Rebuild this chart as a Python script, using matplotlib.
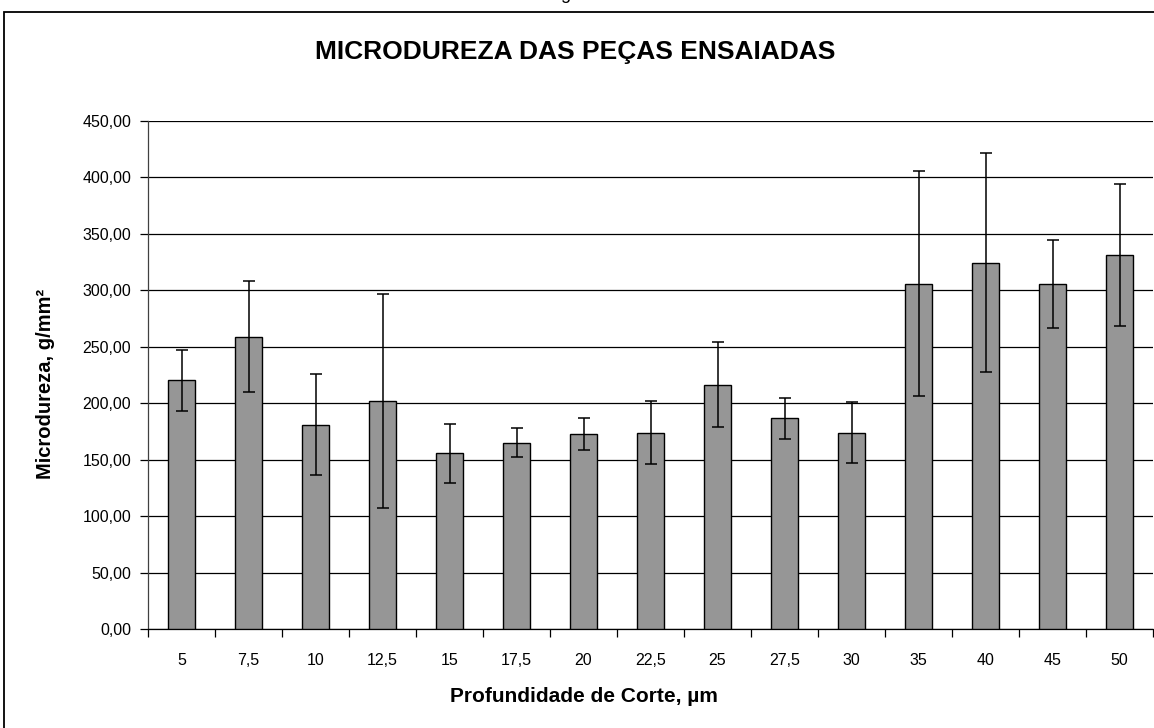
import matplotlib
matplotlib.use("Agg")
import matplotlib.pyplot as plt
from matplotlib.patches import Rectangle
from matplotlib.ticker import FuncFormatter, FixedLocator

categories = ["5", "7,5", "10", "12,5", "15", "17,5", "20", "22,5", "25", "27,5", "30", "35", "40", "45", "50"]
means = [220.5, 259.0, 181.0, 202.0, 155.5, 165.0, 172.5, 174.0, 216.5, 186.5, 174.0, 306.0, 324.5, 306.0, 331.5]
errors = [27.0, 49.0, 45.0, 95.0, 26.0, 13.0, 14.0, 28.0, 38.0, 18.5, 27.0, 100.0, 97.0, 39.0, 63.0]
yticks = [0, 50, 100, 150, 200, 250, 300, 350, 400, 450]

plt.rcParams['font.family'] = ['Liberation Sans', 'DejaVu Sans']

W, H = 1154, 728
fig = plt.figure(figsize=(W / 100, H / 100), dpi=100)
fig.patch.set_facecolor('white')

# outer frame (cut at right/bottom)
fig.patches.append(Rectangle((4 / W, -0.05), 1.2, 1 - 12 / H + 0.05, transform=fig.transFigure,
                             fill=False, edgecolor='black', linewidth=1.3))
# partial caption above frame
fig.text(565 / W, 1 + 1 / H, "g", ha='center', va='baseline', fontsize=13, color='black')

L, R, T, B = 148, 1153, 121, 629
ax = fig.add_axes([L / W, 1 - B / H, (R - L) / W, (B - T) / H])
x = list(range(len(categories)))
ax.bar(x, means, width=0.41, color='#969696', edgecolor='black', linewidth=1.0, zorder=3)
ax.errorbar(x, means, yerr=errors, fmt='none', ecolor='black', elinewidth=1.1,
            capsize=4.5, capthick=1.1, zorder=4)

ax.set_xlim(-0.5, len(categories) - 0.5)
ax.set_ylim(0, 450)
ax.set_yticks(yticks)
ax.yaxis.set_major_formatter(FuncFormatter(lambda v, p: f"{v:.2f}".replace('.', ',')))
ax.yaxis.grid(True, color='black', linewidth=0.9, zorder=0)
ax.set_axisbelow(True)

ax.set_xticks(x)
ax.set_xticklabels(categories)
ax.tick_params(axis='x', which='major', length=0, pad=17, labelsize=11.5)
ax.xaxis.set_minor_locator(FixedLocator([i - 0.5 for i in range(len(categories) + 1)]))
ax.tick_params(axis='x', which='minor', length=6, width=0.9, direction='out')
ax.tick_params(axis='y', length=6, width=0.9, direction='out', labelsize=11.5, pad=6)

for s in ['top', 'right']:
    ax.spines[s].set_visible(False)
ax.spines['left'].set_color('#404040')
ax.spines['left'].set_linewidth(0.9)
ax.spines['bottom'].set_linewidth(0.9)

fig.text(584 / W, 1 - 697 / H, "Profundidade de Corte, µm", ha='center', va='center',
         fontsize=15, fontweight='bold')
fig.text(46 / W, 1 - 384 / H, "Microdureza, g/mm²", ha='center', va='center', rotation=90,
         fontsize=14.5, fontweight='bold')

fig.text(575 / W, 1 - 52 / H, "MICRODUREZA DAS PEÇAS ENSAIADAS", ha='center', va='center',
         fontsize=19, fontweight='bold')

fig.savefig("out.png", dpi=100)
